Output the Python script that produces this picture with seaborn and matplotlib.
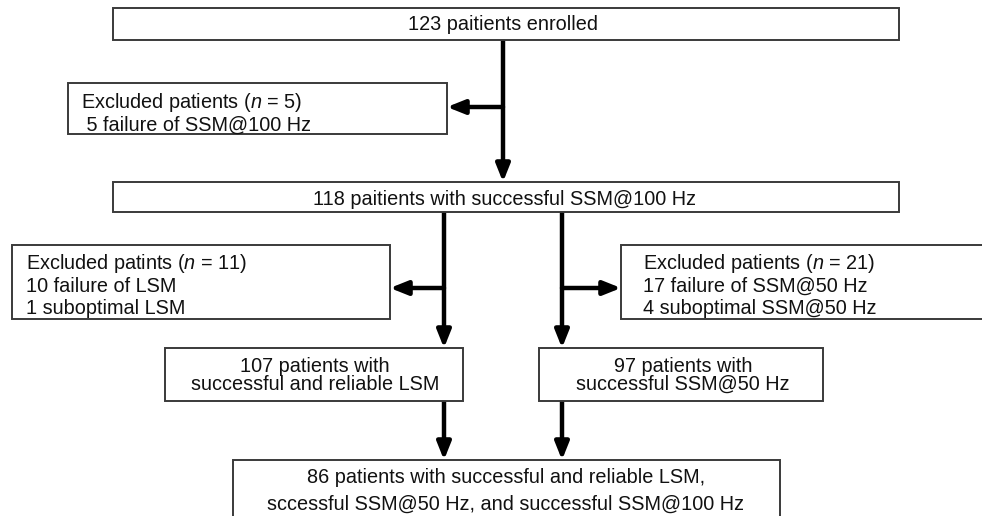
import matplotlib
matplotlib.use("Agg")
import matplotlib.pyplot as plt
import seaborn as sns
from matplotlib.patches import Rectangle

sns.set_theme(style="white")
plt.rcParams['font.family'] = ['Liberation Sans', 'DejaVu Sans']
plt.rcParams['mathtext.fontset'] = 'custom'
plt.rcParams['mathtext.it'] = 'Liberation Sans:italic'
plt.rcParams['mathtext.rm'] = 'Liberation Sans'

# ---- content (text of each box) ----
box_enrolled = ["123 paitients enrolled"]
box_excl1 = ["Excluded patients ($n$ = 5)", " 5 failure of SSM@100 Hz"]
box_ssm100 = ["118 paitients with successful SSM@100 Hz"]
box_excl_lsm = ["Excluded patints ($n$ = 11)", "10 failure of LSM", "1 suboptimal LSM"]
box_excl_ssm50 = ["Excluded patients ($n$ = 21)", "17 failure of SSM@50 Hz", "4 suboptimal SSM@50 Hz"]
box_lsm = ["107 patients with", "successful and reliable LSM"]
box_ssm50 = ["97 patients with", "successful SSM@50 Hz"]
box_final = ["86 patients with successful and reliable LSM,", "sccessful SSM@50 Hz, and successful SSM@100 Hz"]

fig = plt.figure(figsize=(9.82, 5.16), dpi=100)
ax = fig.add_axes([0, 0, 1, 1])
ax.set_xlim(0, 982)
ax.set_ylim(516, 0)
ax.axis("off")

FS = 14.3
EC = "#3a3a3a"

def box(x0, y0, x1, y1):
    ax.add_patch(Rectangle((x0, y0), x1 - x0, y1 - y0, fill=True, facecolor="white",
                           edgecolor=EC, lw=1.4, zorder=2))

def lines_center(xc, ys, texts):
    for y, t in zip(ys, texts):
        ax.text(xc, y, t, ha="center", va="baseline", fontsize=FS, color="#111111", zorder=3)

def lines_left(x, ys, texts):
    for y, t in zip(ys, texts):
        ax.text(x, y, t, ha="left", va="baseline", fontsize=FS, color="#111111", zorder=3)

def arrow(x0, y0, x1, y1):
    ax.annotate("", xy=(x1, y1), xytext=(x0, y0),
                arrowprops=dict(arrowstyle="-|>,head_length=0.75,head_width=0.3", lw=3.2,
                                color="black", shrinkA=0, shrinkB=0, mutation_scale=14),
                zorder=1)

# boxes
box(113, 8, 899, 40)
lines_center(503, [29.5], box_enrolled)

box(68, 83, 447, 134)
lines_left(81, [108, 131], box_excl1)

box(113, 182, 899, 212)
lines_center(505, [205], box_ssm100)

box(12, 245, 390, 319)
lines_left(26, [269, 292, 314], box_excl_lsm)

box(621, 245, 995, 319)
lines_left(643, [269, 292, 314], box_excl_ssm50)

box(165, 348, 463, 401)
lines_center(315, [372, 390], box_lsm)

box(539, 348, 823, 401)
lines_center(683, [372, 390], box_ssm50)

box(233, 460, 780, 530)
lines_center(506, [483, 510], box_final)

# arrows
arrow(503, 40, 503, 182)
arrow(503, 107, 447, 107)
arrow(444, 212, 444, 348)
arrow(562, 212, 562, 348)
arrow(444, 288, 390, 288)
arrow(562, 288, 621, 288)
arrow(444, 401, 444, 460)
arrow(562, 401, 562, 460)

fig.savefig("out.png", dpi=100)
